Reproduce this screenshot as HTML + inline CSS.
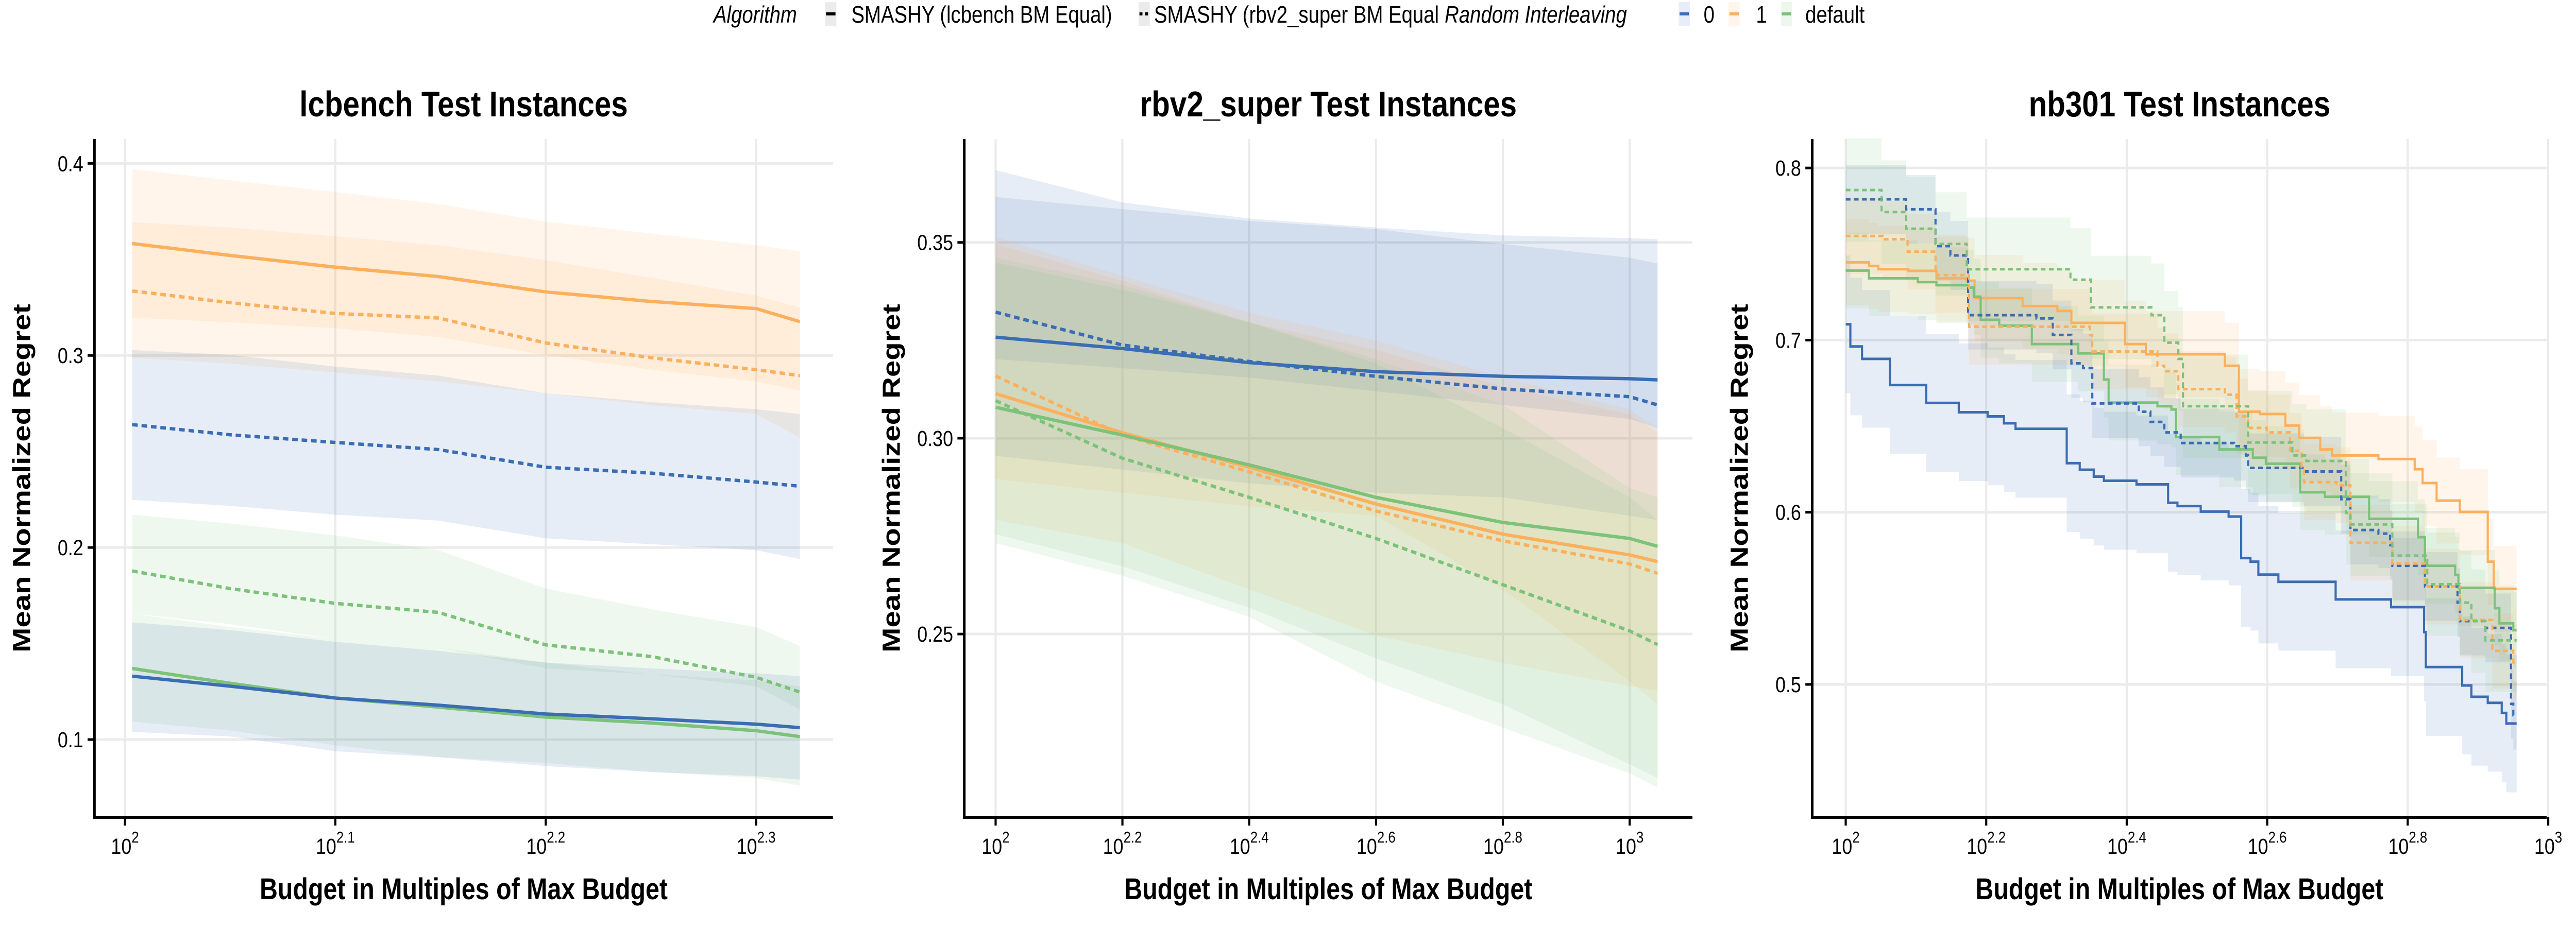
<!DOCTYPE html>
<html><head><meta charset="utf-8"><style>
html,body{margin:0;padding:0;background:#fff;width:100%;height:100%;overflow:hidden;}
svg{display:block;width:100vw;height:100vh;font-family:"Liberation Sans",Arial,sans-serif;}
</style></head><body>
<svg id="chart" xmlns="http://www.w3.org/2000/svg" viewBox="0 0 6000 1800" preserveAspectRatio="none">
<rect width="6000" height="1800" fill="#fff"/>
<g font-size="46">
  <text x="1662" y="44" font-style="italic">Algorithm</text>
  <rect x="1922" y="4" width="26" height="46" fill="#ebebeb"/>
  <line x1="1924" y1="27" x2="1946" y2="27" stroke="#000" stroke-width="6"/>
  <text x="1983" y="44">SMASHY (lcbench BM Equal)</text>
  <rect x="2652" y="4" width="26" height="46" fill="#ebebeb"/>
  <line x1="2654" y1="27" x2="2676" y2="27" stroke="#000" stroke-width="6" stroke-dasharray="7 6"/>
  <text x="2688" y="44">SMASHY (rbv2_super BM Equal</text>
  <text x="3365" y="44" font-style="italic">Random Interleaving</text>
  <rect x="3910" y="4" width="26" height="46" fill="#e8eef7"/>
  <line x1="3912" y1="27" x2="3934" y2="27" stroke="#3a6db3" stroke-width="6"/>
  <text x="3968" y="44">0</text>
  <rect x="4026" y="4" width="26" height="46" fill="#fff5ec"/>
  <line x1="4028" y1="27" x2="4050" y2="27" stroke="#fbb05d" stroke-width="6"/>
  <text x="4090" y="44">1</text>
  <rect x="4148" y="4" width="26" height="46" fill="#eef7ee"/>
  <line x1="4150" y1="27" x2="4172" y2="27" stroke="#7cc27a" stroke-width="6"/>
  <text x="4205" y="44">default</text>
</g>
</svg>
<script>
// ---------- Panel 1: lcbench ----------
const P1_X = [2.0034, 2.05, 2.1, 2.149, 2.2, 2.2504, 2.3, 2.3208];
const P1_ORANGE_SOLID = [0.3583,0.3521,0.3460,0.3411,0.3331,0.3281,0.3244,0.3176];
const P1_ORANGE_SOLID_HI = [0.3694,0.3666,0.3620,0.3574,0.3496,0.3404,0.3311,0.3250];
const P1_ORANGE_SOLID_LO = [0.3197,0.3173,0.3142,0.3096,0.3003,0.2926,0.2865,0.2818];
const P1_ORANGE_DASH = [0.3336,0.3275,0.3219,0.3195,0.3065,0.2988,0.2926,0.2895];
const P1_ORANGE_DASH_HI = [0.3971,0.3912,0.3851,0.3789,0.3697,0.3635,0.3574,0.3543];
const P1_ORANGE_DASH_LO = [0.2988,0.2957,0.2911,0.2865,0.2803,0.2741,0.2695,0.2572];
const P1_BLUE_DASH = [0.2640,0.2587,0.2547,0.2510,0.2418,0.2387,0.2341,0.2319];
const P1_BLUE_DASH_HI = [0.3028,0.3003,0.2942,0.2895,0.2803,0.2757,0.2720,0.2695];
const P1_BLUE_DASH_LO = [0.2248,0.2217,0.2171,0.2140,0.2048,0.2017,0.1986,0.1940];
const P1_GREEN_DASH = [0.1878,0.1786,0.1709,0.1662,0.1493,0.1432,0.1324,0.1247];
const P1_GREEN_DASH_HI = [0.2171,0.2125,0.2063,0.1986,0.1786,0.1678,0.1586,0.1487];
const P1_GREEN_DASH_LO = [0.1656,0.1601,0.1524,0.1478,0.1370,0.1339,0.1278,0.1155];
const P1_GREEN_SOLID = [0.1370,0.1293,0.1216,0.1169,0.1117,0.1086,0.1046,0.1015];
const P1_GREEN_SOLID_HI = [0.1656,0.1586,0.1524,0.1478,0.1401,0.1339,0.1308,0.1278];
const P1_GREEN_SOLID_LO = [0.1093,0.1047,0.0970,0.0908,0.0878,0.0831,0.0800,0.0760];
const P1_BLUE_SOLID = [0.1330,0.1278,0.1216,0.1179,0.1133,0.1108,0.1080,0.1062];
const P1_BLUE_SOLID_HI = [0.1610,0.1570,0.1509,0.1462,0.1401,0.1370,0.1345,0.1330];
const P1_BLUE_SOLID_LO = [0.1040,0.1016,0.0939,0.0908,0.0862,0.0831,0.0809,0.0791];
const P1_YTICKS = [0.1, 0.2, 0.3, 0.4];
const P1_YLABELS = ["0.1", "0.2", "0.3", "0.4"];
const P1_XTICKS = [2, 2.1, 2.2, 2.3];
const P1_XLABELS = ["2", "2.1", "2.2", "2.3"];

// ---------- Panel 2: rbv2_super ----------
const P2_X = [2, 2.2, 2.4, 2.6, 2.8, 3.0, 3.044];
const P2_BLUE_SOLID = [0.3258,0.3229,0.3193,0.3170,0.3158,0.3152,0.3149];
const P2_BLUE_SOLID_HI = [0.3616,0.3585,0.3555,0.3534,0.3496,0.3461,0.3446];
const P2_BLUE_SOLID_LO = [0.2955,0.2920,0.2885,0.2861,0.2849,0.2802,0.2791];
const P2_BLUE_DASH = [0.3322,0.3238,0.3196,0.3158,0.3126,0.3106,0.3085];
const P2_BLUE_DASH_HI = [0.3685,0.3602,0.3561,0.3538,0.3518,0.3511,0.3508];
const P2_BLUE_DASH_LO = [0.3202,0.3179,0.3155,0.3120,0.3085,0.3049,0.3026];
const P2_ORANGE_SOLID = [0.3114,0.3014,0.2926,0.2832,0.2755,0.2702,0.2685];
const P2_ORANGE_SOLID_HI = [0.3514,0.3414,0.3320,0.3249,0.3155,0.3073,0.3026];
const P2_ORANGE_SOLID_LO = [0.2791,0.2732,0.2614,0.2496,0.2426,0.2367,0.2355];
const P2_ORANGE_DASH = [0.3159,0.3008,0.2914,0.2814,0.2738,0.2679,0.2655];
const P2_ORANGE_DASH_HI = [0.3496,0.3402,0.3296,0.3226,0.3132,0.3061,0.3014];
const P2_ORANGE_DASH_LO = [0.2896,0.2861,0.2826,0.2802,0.2614,0.2379,0.2320];
const P2_GREEN_SOLID = [0.3079,0.3008,0.2932,0.2849,0.2785,0.2744,0.2724];
const P2_GREEN_SOLID_HI = [0.3449,0.3379,0.3296,0.3202,0.3085,0.2873,0.2849];
const P2_GREEN_SOLID_LO = [0.2755,0.2673,0.2567,0.2438,0.2320,0.2167,0.2132];
const P2_GREEN_DASH = [0.3096,0.2949,0.2849,0.2744,0.2626,0.2508,0.2473];
const P2_GREEN_DASH_HI = [0.3461,0.3391,0.3296,0.3191,0.3026,0.2849,0.2791];
const P2_GREEN_DASH_LO = [0.2732,0.2649,0.2544,0.2379,0.2261,0.2144,0.2108];
const P2_YTICKS = [0.25, 0.30, 0.35];
const P2_YLABELS = ["0.25", "0.30", "0.35"];
const P2_XTICKS = [2, 2.2, 2.4, 2.6, 2.8, 3];
const P2_XLABELS = ["2", "2.2", "2.4", "2.6", "2.8", "3"];

// ---------- Panel 3: nb301 (step series) ----------
const P3_END = 2.955;
const P3_BLUE_SOLID_X = [2.0,2.0066,2.0232,2.0629,2.1146,2.1609,2.2020,2.2252,2.2417,2.3146,2.3331,2.3530,2.3675,2.4139,2.4589,2.4722,2.5053,2.5450,2.5629,2.5762,2.5874,2.6159,2.6974,2.7762,2.8232,2.8258,2.8775,2.8907,2.9139,2.9338,2.9404];
const P3_BLUE_SOLID_Y = [0.7092,0.6963,0.6891,0.6739,0.6635,0.6581,0.6557,0.6517,0.6485,0.6285,0.6247,0.6207,0.6183,0.6162,0.6055,0.6036,0.6004,0.5975,0.5734,0.5713,0.5638,0.5596,0.5494,0.5449,0.5304,0.5101,0.4994,0.4928,0.4893,0.4834,0.4773];
const P3_ORANGE_SOLID_X = [2.0,2.0331,2.0464,2.0894,2.1291,2.1722,2.1834,2.2517,2.3013,2.3212,2.3974,2.4272,2.5397,2.5596,2.5894,2.6258,2.6457,2.6755,2.6921,2.7583,2.8099,2.8212,2.8411,2.8742,2.9139,2.9225];
const P3_ORANGE_SOLID_Y = [0.7452,0.7431,0.7412,0.7402,0.7359,0.7345,0.7244,0.7198,0.7169,0.7100,0.6977,0.6918,0.6851,0.6584,0.6571,0.6504,0.6432,0.6365,0.6330,0.6309,0.6250,0.6170,0.6068,0.6002,0.5713,0.5555];
const P3_GREEN_SOLID_X = [2.0,2.0331,2.1026,2.1291,2.1755,2.1821,2.1921,2.2185,2.2649,2.3311,2.3675,2.3742,2.4437,2.4636,2.4702,2.5318,2.5795,2.5980,2.6470,2.6821,2.7450,2.8146,2.8245,2.8675,2.8722,2.9238,2.9305,2.9503];
const P3_GREEN_SOLID_Y = [0.7404,0.7359,0.7337,0.7319,0.7305,0.7252,0.7118,0.7084,0.6977,0.6923,0.6771,0.6637,0.6616,0.6597,0.6437,0.6365,0.6317,0.6282,0.6116,0.6090,0.5962,0.5855,0.5689,0.5636,0.5561,0.5443,0.5355,0.5315];
const P3_BLUE_DASH_X = [2.0,2.0861,2.1278,2.1490,2.1742,2.2715,2.2947,2.3212,2.3377,2.3510,2.4172,2.4338,2.4536,2.4768,2.5530,2.5695,2.5728,2.6523,2.7053,2.7185,2.7583,2.7748,2.7781,2.8245,2.8709,2.8742,2.9106,2.9470,2.9503];
const P3_BLUE_DASH_Y = [0.7818,0.7760,0.7546,0.7492,0.7145,0.7126,0.7030,0.6865,0.6838,0.6632,0.6584,0.6525,0.6464,0.6402,0.6384,0.6330,0.6258,0.6237,0.6076,0.5897,0.5876,0.5809,0.5689,0.5569,0.5475,0.5368,0.5328,0.4887,0.4821];
const P3_ORANGE_DASH_X = [2.0,2.0530,2.0881,2.1278,2.1755,2.3477,2.3510,2.4437,2.4536,2.4735,2.5397,2.5563,2.5728,2.5993,2.6325,2.6490,2.6523,2.6987,2.7185,2.7781,2.8245,2.8742,2.9205,2.9503];
const P3_ORANGE_DASH_Y = [0.7605,0.7586,0.7514,0.7378,0.7078,0.7030,0.6934,0.6851,0.6819,0.6715,0.6683,0.6557,0.6490,0.6464,0.6357,0.6263,0.6175,0.6157,0.5823,0.5702,0.5569,0.5374,0.5195,0.5128];
const P3_GREEN_DASH_X = [2.0,2.0510,2.0861,2.1278,2.1722,2.3199,2.3490,2.4351,2.4536,2.4735,2.4801,2.5728,2.6358,2.6556,2.7119,2.7185,2.7781,2.8278,2.8742,2.8907,2.9106];
const P3_GREEN_DASH_Y = [0.7872,0.7744,0.7647,0.7559,0.7412,0.7351,0.7190,0.7145,0.6985,0.6891,0.6616,0.6405,0.6330,0.6298,0.5996,0.5929,0.5748,0.5582,0.5475,0.5368,0.5256];
const P3_BAND_HALF = [0.040, 0.025, 0.022, 0.020, 0.022, 0.030];
const P3_YTICKS = [0.5, 0.6, 0.7, 0.8];
const P3_YLABELS = ["0.5", "0.6", "0.7", "0.8"];
const P3_XTICKS = [2, 2.2, 2.4, 2.6, 2.8, 3];
const P3_XLABELS = ["2", "2.2", "2.4", "2.6", "2.8", "3"];

const BLUE = "#3a6db3", ORANGE = "#fbb05d", GREEN = "#7cc27a";
const NS = "http://www.w3.org/2000/svg";
const svg = document.getElementById("chart");

function mk(tag, attrs, parent) {
  const e = document.createElementNS(NS, tag);
  for (const k in attrs) e.setAttribute(k, attrs[k]);
  (parent || svg).appendChild(e);
  return e;
}

function makePanel(cfg) {
  const sx = v => cfg.left + (v - cfg.dmin) / (cfg.dmax - cfg.dmin) * (cfg.right - cfg.left);
  const sy = v => cfg.top + (cfg.vmax - v) / (cfg.vmax - cfg.vmin) * (cfg.bottom - cfg.top);
  const g = mk("g", {});
  
  
  cfg.yticks.forEach(t => {
    const l = mk("line", {x1: cfg.left, x2: cfg.right, y1: sy(t), y2: sy(t), stroke: "#ebebeb", "stroke-width": 5}, g);
    
    
  });
  cfg.xticks.forEach(t => {
    const l = mk("line", {x1: sx(t), x2: sx(t), y1: cfg.top, y2: cfg.bottom, stroke: "#ebebeb", "stroke-width": 5}, g);
    
    
  });
  return {g, sx, sy};
}

function bandPath(sx, sy, xs, lo, hi) {
  let d = "M" + xs.map((x, i) => sx(x) + "," + sy(hi[i])).join("L");
  for (let i = xs.length - 1; i >= 0; i--) d += "L" + sx(xs[i]) + "," + sy(lo[i]);
  return d + "Z";
}
function linePath(sx, sy, xs, ys) {
  return "M" + xs.map((x, i) => sx(x) + "," + sy(ys[i])).join("L");
}
function stepPath(sx, sy, xs, ys, end, off) {
  let d = "M" + sx(xs[0]) + "," + sy(ys[0] + off);
  for (let i = 1; i < xs.length; i++) {
    d += "L" + sx(xs[i]) + "," + sy(ys[i - 1] + off) + "L" + sx(xs[i]) + "," + sy(ys[i] + off);
  }
  d += "L" + sx(end) + "," + sy(ys[ys.length - 1] + off);
  return d;
}
function stepBand(sx, sy, xs, ys, end, h) {
  let d = stepPath(sx, sy, xs, ys, end, h);
  let back = "L" + sx(end) + "," + sy(ys[ys.length - 1] - h);
  for (let i = xs.length - 1; i >= 1; i--) {
    back += "L" + sx(xs[i]) + "," + sy(ys[i] - h) + "L" + sx(xs[i]) + "," + sy(ys[i - 1] - h);
  }
  back += "L" + sx(xs[0]) + "," + sy(ys[0] - h) + "Z";
  return d + back;
}

function axes(cfg, p) {
  const g = p.g;
  const ax = mk("line", {x1: cfg.left, x2: cfg.left, y1: cfg.top, y2: cfg.bottom + 3, stroke: "#000", "stroke-width": 6}, g);
  
  
  const bx = mk("line", {x1: cfg.left - 3, x2: cfg.right, y1: cfg.bottom, y2: cfg.bottom, stroke: "#000", "stroke-width": 6}, g);
  
  
  cfg.yticks.forEach((t, i) => {
    const tk = mk("line", {x1: cfg.left - 16, x2: cfg.left, y1: p.sy(t), y2: p.sy(t), stroke: "#000", "stroke-width": 5}, g);
    
    
    const tx = mk("text", {x: cfg.left - 26, y: p.sy(t) + 15, "text-anchor": "end", "font-size": 43}, g);
    tx.textContent = cfg.ylabels[i];
    
    
  });
  cfg.xticks.forEach((t, i) => {
    const tk = mk("line", {x1: p.sx(t), x2: p.sx(t), y1: cfg.bottom, y2: cfg.bottom + 16, stroke: "#000", "stroke-width": 5}, g);
    
    
    const tx = mk("text", {x: p.sx(t), y: 1658, "text-anchor": "middle", "font-size": 43}, g);
    
    
    tx.appendChild(document.createTextNode("10"));
    const sup = mk("tspan", {dy: -22, "font-size": 31}, tx);
    sup.textContent = cfg.xlabels[i];
  });
  const mid = (cfg.left + cfg.right) / 2;
  const title = mk("text", {x: mid, y: 226, "text-anchor": "middle", "font-size": 70, "font-weight": "bold"}, g);
  title.textContent = cfg.title;
  
  
  const xt = mk("text", {x: mid, y: 1746, "text-anchor": "middle", "font-size": 58, "font-weight": "bold"}, g);
  xt.textContent = "Budget in Multiples of Max Budget";
  
  
  const ycx = cfg.left - 150, ycy = (cfg.top + cfg.bottom) / 2;
  const yt = mk("text", {x: ycx, y: ycy, "text-anchor": "middle", "font-size": 58, "font-weight": "bold", transform: "rotate(-90 " + ycx + " " + ycy + ")"}, g);
  yt.textContent = "Mean Normalized Regret";
  
  
}

function drawSmooth(p, xs, series) {
  series.forEach(s => {
    const b = mk("path", {d: bandPath(p.sx, p.sy, xs, s.lo, s.hi), fill: s.color, "fill-opacity": 0.12, stroke: "none"}, p.g);
    
    
  });
  series.forEach(s => {
    const l = mk("path", {d: linePath(p.sx, p.sy, xs, s.y), fill: "none", stroke: s.color, "stroke-width": 6.5, "stroke-dasharray": s.dash ? "13 9" : "none"}, p.g);
    
    
  });
}

const c1 = {name: "lcbench", title: "lcbench Test Instances", left: 220, right: 1940, top: 270, bottom: 1587, dmin: 1.9855, dmax: 2.3365, vmin: 0.0595, vmax: 0.4127, yticks: P1_YTICKS, ylabels: P1_YLABELS, xticks: P1_XTICKS, xlabels: P1_XLABELS};
const p1 = makePanel(c1);
drawSmooth(p1, P1_X, [
  {name: "lcbench-ri1-solid", color: ORANGE, y: P1_ORANGE_SOLID, lo: P1_ORANGE_SOLID_LO, hi: P1_ORANGE_SOLID_HI},
  {name: "lcbench-ri1-dashed", color: ORANGE, dash: true, y: P1_ORANGE_DASH, lo: P1_ORANGE_DASH_LO, hi: P1_ORANGE_DASH_HI},
  {name: "lcbench-ri0-dashed", color: BLUE, dash: true, y: P1_BLUE_DASH, lo: P1_BLUE_DASH_LO, hi: P1_BLUE_DASH_HI},
  {name: "lcbench-default-dashed", color: GREEN, dash: true, y: P1_GREEN_DASH, lo: P1_GREEN_DASH_LO, hi: P1_GREEN_DASH_HI},
  {name: "lcbench-default-solid", color: GREEN, y: P1_GREEN_SOLID, lo: P1_GREEN_SOLID_LO, hi: P1_GREEN_SOLID_HI},
  {name: "lcbench-ri0-solid", color: BLUE, y: P1_BLUE_SOLID, lo: P1_BLUE_SOLID_LO, hi: P1_BLUE_SOLID_HI}
]);
axes(c1, p1);

const c2 = {name: "rbv2", title: "rbv2_super Test Instances", left: 2246, right: 3942, top: 270, bottom: 1587, dmin: 1.9506, dmax: 3.099, vmin: 0.2032, vmax: 0.3764, yticks: P2_YTICKS, ylabels: P2_YLABELS, xticks: P2_XTICKS, xlabels: P2_XLABELS};
const p2 = makePanel(c2);
drawSmooth(p2, P2_X, [
  {name: "rbv2-ri0-solid", color: BLUE, y: P2_BLUE_SOLID, lo: P2_BLUE_SOLID_LO, hi: P2_BLUE_SOLID_HI},
  {name: "rbv2-ri0-dashed", color: BLUE, dash: true, y: P2_BLUE_DASH, lo: P2_BLUE_DASH_LO, hi: P2_BLUE_DASH_HI},
  {name: "rbv2-ri1-solid", color: ORANGE, y: P2_ORANGE_SOLID, lo: P2_ORANGE_SOLID_LO, hi: P2_ORANGE_SOLID_HI},
  {name: "rbv2-ri1-dashed", color: ORANGE, dash: true, y: P2_ORANGE_DASH, lo: P2_ORANGE_DASH_LO, hi: P2_ORANGE_DASH_HI},
  {name: "rbv2-default-solid", color: GREEN, y: P2_GREEN_SOLID, lo: P2_GREEN_SOLID_LO, hi: P2_GREEN_SOLID_HI},
  {name: "rbv2-default-dashed", color: GREEN, dash: true, y: P2_GREEN_DASH, lo: P2_GREEN_DASH_LO, hi: P2_GREEN_DASH_HI}
]);
axes(c2, p2);

const c3 = {name: "nb301", title: "nb301 Test Instances", left: 4221, right: 5932, top: 270, bottom: 1587, dmin: 1.9523, dmax: 2.998, vmin: 0.4228, vmax: 0.8168, yticks: P3_YTICKS, ylabels: P3_YLABELS, xticks: P3_XTICKS, xlabels: P3_XLABELS};
const p3 = makePanel(c3);
const s3 = [
  {name: "nb301-ri0-solid", color: BLUE, x: P3_BLUE_SOLID_X, y: P3_BLUE_SOLID_Y, h: P3_BAND_HALF[0]},
  {name: "nb301-ri1-solid", color: ORANGE, x: P3_ORANGE_SOLID_X, y: P3_ORANGE_SOLID_Y, h: P3_BAND_HALF[1]},
  {name: "nb301-default-solid", color: GREEN, x: P3_GREEN_SOLID_X, y: P3_GREEN_SOLID_Y, h: P3_BAND_HALF[2]},
  {name: "nb301-ri0-dashed", color: BLUE, dash: true, x: P3_BLUE_DASH_X, y: P3_BLUE_DASH_Y, h: P3_BAND_HALF[3]},
  {name: "nb301-ri1-dashed", color: ORANGE, dash: true, x: P3_ORANGE_DASH_X, y: P3_ORANGE_DASH_Y, h: P3_BAND_HALF[4]},
  {name: "nb301-default-dashed", color: GREEN, dash: true, x: P3_GREEN_DASH_X, y: P3_GREEN_DASH_Y, h: P3_BAND_HALF[5]}
];
s3.forEach(s => {
  const b = mk("path", {d: stepBand(p3.sx, p3.sy, s.x, s.y, P3_END, s.h), fill: s.color, "fill-opacity": 0.12, stroke: "none"}, p3.g);
  
  
});
s3.forEach(s => {
  const l = mk("path", {d: stepPath(p3.sx, p3.sy, s.x, s.y, P3_END, 0), fill: "none", stroke: s.color, "stroke-width": 5, "stroke-dasharray": s.dash ? "11 8" : "none"}, p3.g);
  
  
});
axes(c3, p3);
</script>
</body></html>
